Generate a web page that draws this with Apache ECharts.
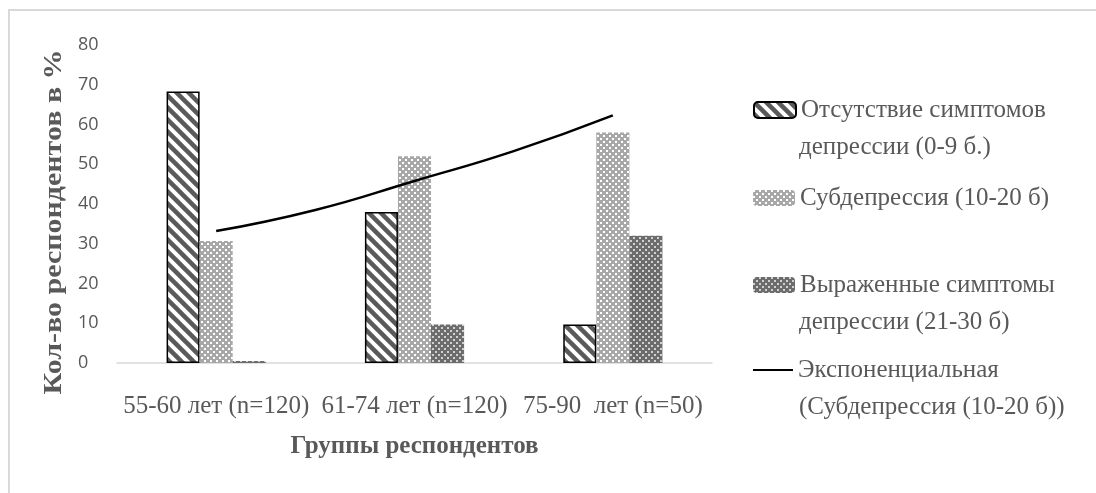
<!DOCTYPE html>
<html>
<head>
<meta charset="utf-8">
<script src="https://cdn.jsdelivr.net/npm/echarts@6/dist/echarts.min.js"></script>
<style>
html,body{margin:0;padding:0;background:#fff;}
#chart{width:1096px;height:493px;}
</style>
</head>
<body>
<div id="chart"></div>
<script>
// ---- data ----
var categories = ['55-60 лет (n=120)', '61-74 лет (n=120)', '75-90  лет (n=50)'];
var seriesNames = ['Отсутствие симптомов депрессии (0-9 б.)', 'Субдепрессия (10-20 б)', 'Выраженные симптомы депрессии (21-30 б)', 'Экспоненциальная (Субдепрессия (10-20 б))'];
var noSymptoms = [68.3, 38, 9.7];
var subdepression = [30.7, 52, 58];
var severe = [0.5, 9.7, 32];
// trend line (x in category positions 1..3)
var trendX = [1, 1.5, 2, 2.5, 3];
var trendY = [33.2, 38.5, 45.8, 53.3, 62.3];
var yMin = 0, yMax = 80, yStep = 10;
var legendFirstLines = ['Отсутствие симптомов', 'Субдепрессия (10-20 б)', 'Выраженные симптомы', 'Экспоненциальная'];
var legendSecondLines = ['депрессии (0-9 б.)', '', 'депрессии (21-30 б)', '(Субдепрессия (10-20 б))'];

// ---- patterns ----
function makeCanvas(w, h) { var c = document.createElement('canvas'); c.width = w; c.height = h; return c; }
function stripePattern() {
  var s = 12, c = makeCanvas(s, s), g = c.getContext('2d');
  g.fillStyle = '#ffffff'; g.fillRect(0, 0, s, s);
  g.strokeStyle = '#5a5a5a'; g.lineWidth = 4.5;
  for (var k = -1; k <= 1; k++) {
    g.beginPath(); g.moveTo(k * s - 2, -2); g.lineTo(k * s + s + 2, s + 2); g.stroke();
  }
  return { image: c, repeat: 'repeat' };
}
function dotPattern(bg, hole) {
  var s = 6, c = makeCanvas(s, s), g = c.getContext('2d');
  g.fillStyle = bg; g.fillRect(0, 0, s, s);
  g.fillStyle = hole;
  g.fillRect(0, 0, 2, 2); g.fillRect(3, 3, 2, 2);
  return { image: c, repeat: 'repeat' };
}
var patA = stripePattern();
var patB = dotPattern('#a8a8a8', '#ffffff');
var patC = dotPattern('#6c6c6c', '#d0d0d0');

var LH = 37;
var legendCenters = [110, 198, 285, 370];
var legendTextX = 799;
function makeLegend(i) {
  var isLine = i === 3;
  var lg = {
    data: [seriesNames[i]], left: 753, top: legendCenters[i] - LH / 2, padding: 0,
    itemWidth: isLine ? 40 : 42, itemHeight: isLine ? 2 : 16, selectedMode: false,
    formatter: function () { return legendFirstLines[i]; },
    textStyle: { fontFamily: 'Liberation Serif', fontSize: 25, color: '#595959', lineHeight: LH }
  };
  if (isLine) { lg.icon = 'rect'; }
  return lg;
}
var graphics = [
  { type: 'rect', silent: true, z: -10, shape: { x: 9, y: 10, width: 1200, height: 600 }, style: { fill: 'none', stroke: '#d9d9d9', lineWidth: 2 } },
  { type: 'text', x: 55, y: 222, rotation: Math.PI / 2, scaleX: 1.2, style: { text: 'Кол-во респондентов в %', font: 'bold 25px "Liberation Serif"', fill: '#595959', align: 'center', verticalAlign: 'middle' } }
];
legendSecondLines.forEach(function (t, i) {
  if (!t) return;
  graphics.push({ type: 'text', x: legendTextX, y: legendCenters[i] + LH, silent: true,
    style: { text: t, font: '25px "Liberation Serif"', fill: '#595959', align: 'left', verticalAlign: 'middle' } });
});

var chart = echarts.init(document.getElementById('chart'), null, { renderer: 'canvas' });
chart.setOption({
  animation: false,
  backgroundColor: '#ffffff',
  grid: { left: 117, right: 384, top: 45, bottom: 130, containLabel: false },
  graphic: graphics,
  legend: [makeLegend(0), makeLegend(1), makeLegend(2), makeLegend(3)],
  xAxis: [
    {
      type: 'category', data: categories,
      axisLine: { lineStyle: { color: '#d9d9d9', width: 1.5 } },
      axisTick: { show: false },
      axisLabel: { interval: 0, margin: 31, fontFamily: 'Liberation Serif', fontSize: 25, color: '#595959' },
      name: 'Группы респондентов', nameLocation: 'middle', nameGap: 71,
      nameTextStyle: { fontFamily: 'Liberation Serif', fontSize: 25, fontWeight: 'bold', color: '#595959' }
    },
    { type: 'value', min: 0.5, max: 3.5, show: false }
  ],
  yAxis: {
    type: 'value', min: yMin, max: yMax, interval: yStep,
    axisLine: { show: false }, axisTick: { show: false }, splitLine: { show: false },
    axisLabel: { margin: 39, align: 'left', fontFamily: 'Open Sans', fontSize: 18, color: '#595959' }
  },
  series: [
    { name: seriesNames[0], type: 'bar', data: noSymptoms, barGap: '0%', barCategoryGap: '50%',
      itemStyle: { color: patA, borderColor: '#000000', borderWidth: 1.5 } },
    { name: seriesNames[1], type: 'bar', data: subdepression, barGap: '0%', barCategoryGap: '50%',
      itemStyle: { color: patB } },
    { name: seriesNames[2], type: 'bar', data: severe, barGap: '0%', barCategoryGap: '50%',
      itemStyle: { color: patC } },
    { name: seriesNames[3], type: 'line', xAxisIndex: 1, smooth: true, symbol: 'none', showSymbol: false,
      data: trendX.map(function (x, i) { return [x, trendY[i]]; }),
      lineStyle: { color: '#000000', width: 2.5 }, itemStyle: { color: '#000000' } }
  ]
});
</script>
</body>
</html>
